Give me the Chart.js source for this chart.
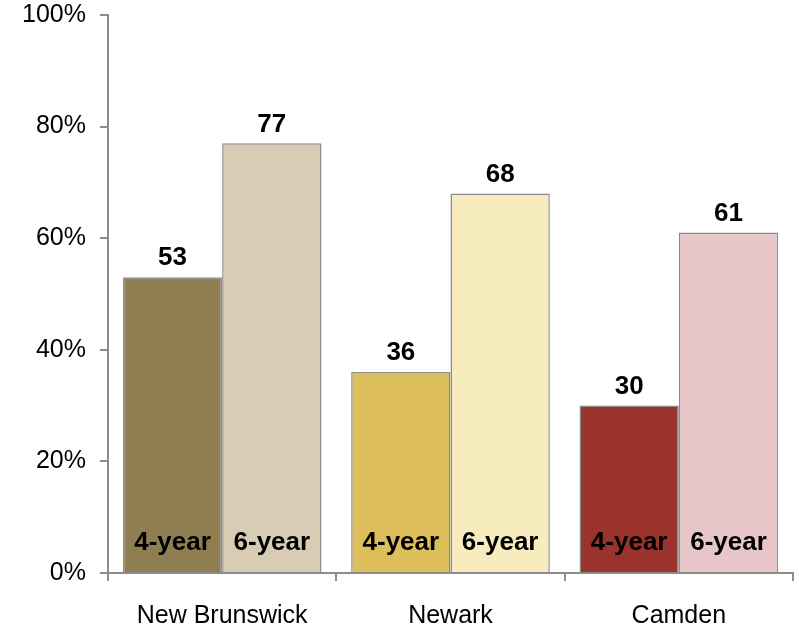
<!DOCTYPE html>
<html>
<head>
<meta charset="utf-8">
<script src="https://cdn.jsdelivr.net/npm/chart.js@4"></script>
<style>
  html, body { margin: 0; padding: 0; background: #fff; }
  #wrap { width: 799px; height: 630px; }
</style>
</head>
<body>
<div id="wrap"><canvas id="chart" width="799" height="630"></canvas></div>
<script>
// Graduation rates by campus
const campuses = ['New Brunswick', 'Newark', 'Camden'];
const seriesNames = ['4-year', '6-year'];
const fourYear = [53, 36, 30];
const sixYear = [77, 68, 61];
const yTicks = [0, 20, 40, 60, 80, 100];

const fourYearColors = ['#8e7e50', '#dcbf5a', '#99332b'];
const sixYearColors = ['#d8ccb5', '#f7ecbd', '#e8c5c8'];
const axisGray = '#8c8c8c';
const fontFamily = '"Liberation Sans", Arial, sans-serif';

// draws value labels above bars and series name inside bottom of bars
const barLabels = {
    id: 'barLabels',
    afterDatasetsDraw(chart) {
        const ctx = chart.ctx;
        const yScale = chart.scales.y;
        ctx.save();
        ctx.fillStyle = '#000';
        ctx.textAlign = 'center';
        ctx.textBaseline = 'middle';
        ctx.font = 'bold 26px ' + fontFamily;
        chart.data.datasets.forEach((ds, i) => {
            const meta = chart.getDatasetMeta(i);
            meta.data.forEach((bar, j) => {
                ctx.fillText(String(ds.data[j]), bar.x, bar.y - 19);
                ctx.fillText(ds.label, bar.x, yScale.bottom - 30);
            });
        });
        ctx.restore();
    }
};

new Chart(document.getElementById('chart'), {
    type: 'bar',
    data: {
        labels: campuses,
        datasets: [{
            label: seriesNames[0],
            data: fourYear,
            backgroundColor: fourYearColors,
            borderColor: axisGray,
            borderWidth: 1.5
        }, {
            label: seriesNames[1],
            data: sixYear,
            backgroundColor: sixYearColors,
            borderColor: axisGray,
            borderWidth: 1.5
        }]
    },
    options: {
        responsive: false,
        animation: false,
        layout: { padding: { top: 15, right: 6, left: 0, bottom: 0 } },
        datasets: {
            bar: { categoryPercentage: 0.87, barPercentage: 1.0 }
        },
        plugins: {
            legend: { display: false },
            tooltip: { enabled: false }
        },
        scales: {
            x: {
                grid: {
                    display: true,
                    drawOnChartArea: false,
                    color: axisGray,
                    lineWidth: 2,
                    tickLength: 8,
                    offset: true
                },
                border: { color: axisGray, width: 2 },
                ticks: {
                    color: '#000',
                    padding: 20,
                    font: { family: fontFamily, size: 25 }
                },
                afterFit(scale) {
                    scale.height = 57;
                    scale.paddingLeft = 0;
                    scale.paddingRight = 0;
                }
            },
            y: {
                min: 0,
                max: 100,
                afterBuildTicks(scale) {
                    scale.ticks = yTicks.map(v => ({ value: v }));
                },
                grid: {
                    display: true,
                    drawOnChartArea: false,
                    color: axisGray,
                    lineWidth: 2,
                    tickLength: 8
                },
                border: { color: axisGray, width: 2 },
                ticks: {
                    color: '#000',
                    padding: 14,
                    callback: v => v + '%',
                    font: { family: fontFamily, size: 25 }
                },
                afterFit(scale) {
                    scale.width = 108;
                    scale.paddingTop = 0;
                    scale.paddingBottom = 0;
                }
            }
        }
    },
    plugins: [barLabels]
});
</script>
</body>
</html>
